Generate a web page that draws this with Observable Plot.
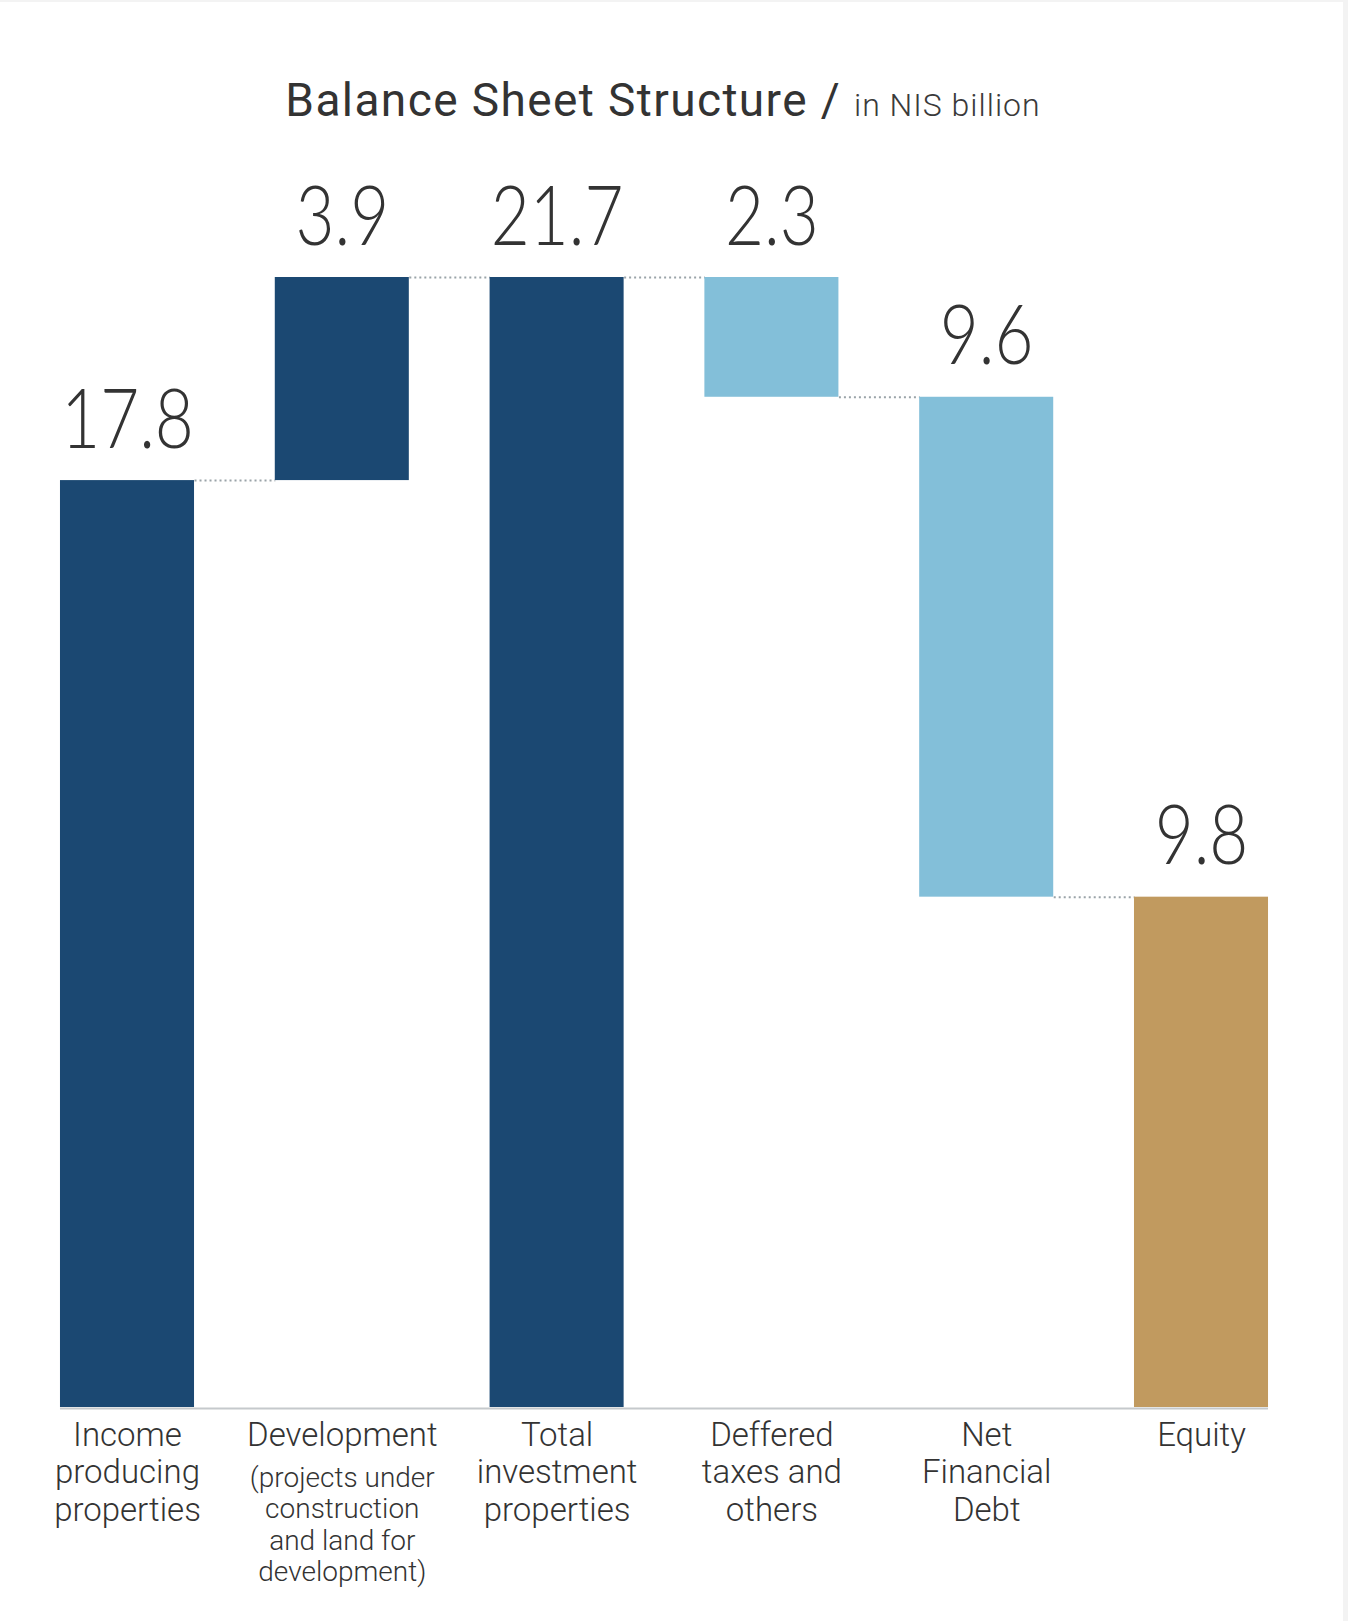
<!DOCTYPE html>
<html><head><meta charset="utf-8">
<script src="https://cdn.jsdelivr.net/npm/d3@7"></script>
<script src="https://cdn.jsdelivr.net/npm/@observablehq/plot@0.6"></script>
<style>
html,body{margin:0;padding:0;background:#f3f3f3;}
#card{position:relative;width:1343px;margin-top:2px;background:#fff;height:1619px;overflow:hidden;}
#title{height:138px;box-sizing:border-box;padding-top:75px;padding-right:17px;text-align:center;font-family:Roboto,sans-serif;color:#333;white-space:nowrap;}
#title .main{font-size:46px;font-weight:400;line-height:46px;letter-spacing:1.4px;}
#title .sub{font-size:32px;font-weight:300;color:#3a3a3a;letter-spacing:1px;}
</style></head><body>
<div id="card">
  <div id="title"><span class="main">Balance Sheet Structure / </span><span class="sub">in NIS billion</span></div>
  <div id="chart"></div>
</div>
<script>
// ---- data ----
const categories = ["Income producing properties", "Development", "Total investment properties", "Deffered taxes and others", "Net Financial Debt", "Equity"];
const values = [17.8, 3.9, 21.7, 2.3, 9.6, 9.8];
const kinds = ["increase", "increase", "total", "decrease", "decrease", "total"];
const groups = ["asset", "asset", "asset", "liability", "liability", "equity"];
const tickLabels = ["Income\nproducing\nproperties", "Development", "Total\ninvestment\nproperties", "Deffered\ntaxes and\nothers", "Net\nFinancial\nDebt", "Equity"];
const notes = ["", "(projects under\nconstruction\nand land for\ndevelopment)", "", "", "", ""];
const groupDomain = ["asset", "liability", "equity"];
const groupColors = ["#1b4872", "#83bfd9", "#c19a5f"];

// ---- waterfall table ----
let level = 0;
const rows = values.map((v, i) => {
  let lo, hi;
  if (kinds[i] === "total") { lo = 0; hi = v; level = v; }
  else if (kinds[i] === "increase") { lo = level; hi = level + v; level = hi; }
  else { hi = level; lo = level - v; level = lo; }
  return {i, category: categories[i], value: v, lo, hi, end: level, group: groups[i], note: notes[i]};
});
const half = 0.312; // half bar width as a fraction of the category step
const connectors = rows.slice(0, -1).map(r => ({x1: r.i + half, x2: r.i + 1 - half, y: r.end}));
const noteRows = rows.filter(r => r.note);

const chart = Plot.plot({
  width: 1343,
  height: 1470,
  marginLeft: 19.6,
  marginRight: 34.6,
  marginTop: 137,
  marginBottom: 203,
  x: {type: "linear", domain: [-0.5, 5.5], axis: null},
  y: {domain: [0, 21.7], axis: null},
  color: {domain: groupDomain, range: groupColors},
  style: {fontFamily: "Roboto, sans-serif", color: "#333", background: "transparent"},
  marks: [
    Plot.link(connectors, {x1: "x1", x2: "x2", y1: "y", y2: "y", stroke: "#9aa3a8", strokeWidth: 2, strokeDasharray: "2 3"}),
    Plot.rectY(rows, {x1: d => d.i - half, x2: d => d.i + half, y1: "lo", y2: "hi", fill: "group"}),
    Plot.ruleY([0], {x1: rows[0].i - half, x2: rows[rows.length - 1].i + half, stroke: "#c5c9cc", strokeWidth: 2, dy: 1}),
    Plot.text(rows, {x: "i", y: "hi", text: d => d3.format(".1f")(d.value), lineAnchor: "bottom", dy: -33, fontSize: 82, fontFamily: "Lato, Roboto, sans-serif", fontWeight: 300, fill: "#333"}),
    Plot.text(noteRows, {x: "i", text: "note", frameAnchor: "bottom", lineAnchor: "top", dy: 57, fontSize: 28, lineHeight: 1.125, fontWeight: 300, fill: "#333"}),
    Plot.axisX({ticks: rows.map(d => d.i), tickFormat: i => tickLabels[i], tickSize: 0, tickPadding: 12, fontSize: 33, lineHeight: 1.13, fontWeight: 300, fill: "#333", label: null})
  ]
});
document.getElementById("chart").append(chart);
// condense the big value labels
const valueGroup = chart.querySelectorAll('g[aria-label="text"]')[0];
if (valueGroup) valueGroup.querySelectorAll("text").forEach(t => {
  const w = t.getComputedTextLength();
  t.setAttribute("textLength", (w * 0.82).toFixed(1));
  t.setAttribute("lengthAdjust", "spacingAndGlyphs");
});
</script>
</body></html>
